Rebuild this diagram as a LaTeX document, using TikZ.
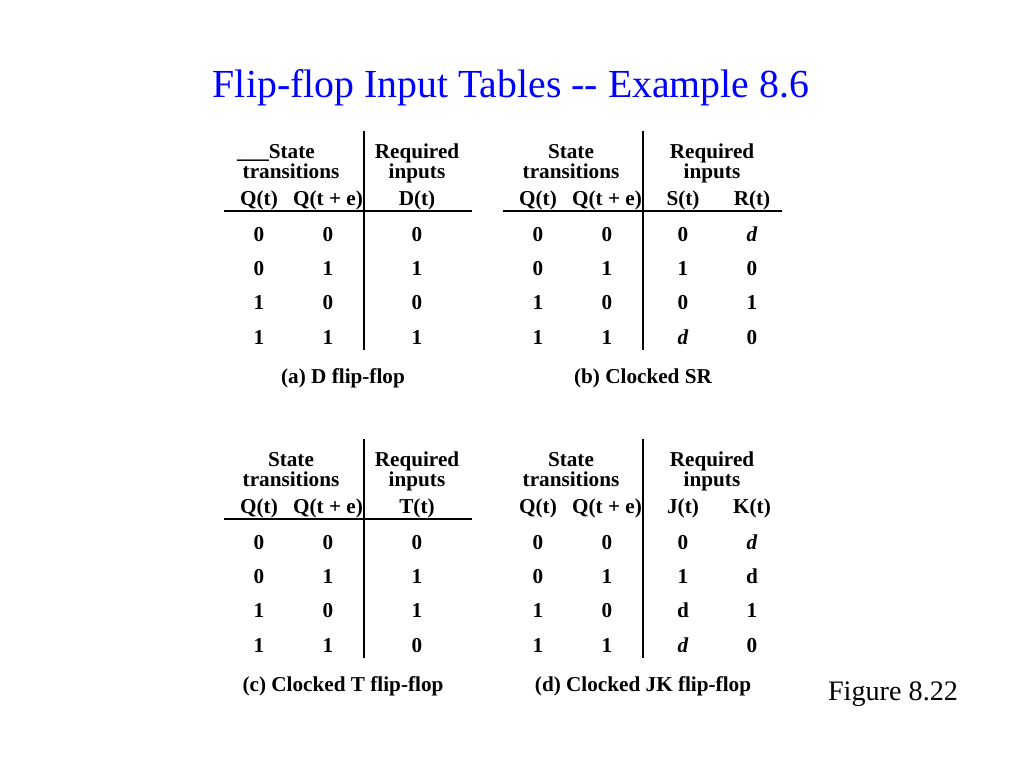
\documentclass[tikz,border=0pt]{standalone}
\usepackage{fontspec}
\setmainfont{Liberation Serif}
\begin{document}
\begin{tikzpicture}[x=1pt,y=-1pt,
  cell/.style={anchor=base, inner sep=0pt, font=\bfseries\fontsize{21.2}{24}\selectfont},
  rulel/.style={line width=1.5pt, black},
  titletext/.style={anchor=base, inner sep=0pt, text=blue, font=\fontsize{39.8}{44}\selectfont},
  figtext/.style={anchor=base, inner sep=0pt, font=\fontsize{28.2}{32}\selectfont}]
\useasboundingbox[fill=white] (0,0) rectangle (1024,768);

\node[titletext] (title) at (511,97) {Flip-flop Input Tables -{}- Example 8.6};

% ---------- (a) D flip-flop ----------
\begin{scope}
\node[cell,anchor=base east] (a-st) at (315,158) {\_\_\_State};
\node[cell] (a-tr) at (291,178) {transitions};
\node[cell] (a-rq) at (417,158) {Required};
\node[cell] (a-in) at (417,178) {inputs};
\node[cell] (a-h1) at (259,205) {Q(t)};
\node[cell] (a-h2) at (328,205) {Q(t + e)};
\node[cell] (a-h3) at (417,205) {D(t)};
\foreach \r/\y/\p/\q/\d in {1/241/0/0/0, 2/275/0/1/1, 3/309.5/1/0/0, 4/344/1/1/1}{
  \node[cell] (a-\r-1) at (259,\y) {\p};
  \node[cell] (a-\r-2) at (328,\y) {\q};
  \node[cell] (a-\r-3) at (417,\y) {\d};
}
\coordinate (a-vt) at (364,131); \coordinate (a-vb) at (364,350);
\coordinate (a-hl) at (224,211); \coordinate (a-hr) at (472,211);
\draw[rulel] (a-vt) -- (a-vb);
\draw[rulel] (a-hl) -- (a-hr);
\node[cell] (a-cap) at (343,383) {(a) D flip-flop};
\end{scope}

% ---------- (b) Clocked SR ----------
\begin{scope}
\node[cell] (b-st) at (571,158) {State};
\node[cell] (b-tr) at (571,178) {transitions};
\node[cell] (b-rq) at (712,158) {Required};
\node[cell] (b-in) at (712,178) {inputs};
\node[cell] (b-h1) at (538,205) {Q(t)};
\node[cell] (b-h2) at (607,205) {Q(t + e)};
\node[cell] (b-h3) at (683,205) {S(t)};
\node[cell] (b-h4) at (752,205) {R(t)};
\foreach \r/\y/\p/\q/\s/\t in {1/241/0/0/0/{\textit{d}}, 2/275/0/1/1/0, 3/309.5/1/0/0/1, 4/344/1/1/{\textit{d}}/0}{
  \node[cell] (b-\r-1) at (538,\y) {\p};
  \node[cell] (b-\r-2) at (607,\y) {\q};
  \node[cell] (b-\r-3) at (683,\y) {\s};
  \node[cell] (b-\r-4) at (752,\y) {\t};
}
\coordinate (b-vt) at (643,131); \coordinate (b-vb) at (643,350);
\coordinate (b-hl) at (503,211); \coordinate (b-hr) at (782,211);
\draw[rulel] (b-vt) -- (b-vb);
\draw[rulel] (b-hl) -- (b-hr);
\node[cell] (b-cap) at (643,383) {(b) Clocked SR};
\end{scope}

% ---------- (c) Clocked T flip-flop ----------
\begin{scope}
\node[cell] (c-st) at (291,466) {State};
\node[cell] (c-tr) at (291,486) {transitions};
\node[cell] (c-rq) at (417,466) {Required};
\node[cell] (c-in) at (417,486) {inputs};
\node[cell] (c-h1) at (259,513) {Q(t)};
\node[cell] (c-h2) at (328,513) {Q(t + e)};
\node[cell] (c-h3) at (417,513) {T(t)};
\foreach \r/\y/\p/\q/\d in {1/549/0/0/0, 2/583/0/1/1, 3/617.5/1/0/1, 4/652/1/1/0}{
  \node[cell] (c-\r-1) at (259,\y) {\p};
  \node[cell] (c-\r-2) at (328,\y) {\q};
  \node[cell] (c-\r-3) at (417,\y) {\d};
}
\coordinate (c-vt) at (364,439); \coordinate (c-vb) at (364,658);
\coordinate (c-hl) at (224,519); \coordinate (c-hr) at (472,519);
\draw[rulel] (c-vt) -- (c-vb);
\draw[rulel] (c-hl) -- (c-hr);
\node[cell] (c-cap) at (343,691) {(c) Clocked T flip-flop};
\end{scope}

% ---------- (d) Clocked JK flip-flop ----------
\begin{scope}
\node[cell] (d-st) at (571,466) {State};
\node[cell] (d-tr) at (571,486) {transitions};
\node[cell] (d-rq) at (712,466) {Required};
\node[cell] (d-in) at (712,486) {inputs};
\node[cell] (d-h1) at (538,513) {Q(t)};
\node[cell] (d-h2) at (607,513) {Q(t + e)};
\node[cell] (d-h3) at (683,513) {J(t)};
\node[cell] (d-h4) at (752,513) {K(t)};
\foreach \r/\y/\p/\q/\s/\t in {1/549/0/0/0/{\textit{d}}, 2/583/0/1/1/d, 3/617.5/1/0/d/1, 4/652/1/1/{\textit{d}}/0}{
  \node[cell] (d-\r-1) at (538,\y) {\p};
  \node[cell] (d-\r-2) at (607,\y) {\q};
  \node[cell] (d-\r-3) at (683,\y) {\s};
  \node[cell] (d-\r-4) at (752,\y) {\t};
}
\coordinate (d-vt) at (643,439); \coordinate (d-vb) at (643,658);
\draw[rulel] (d-vt) -- (d-vb);
\node[cell] (d-cap) at (643,691) {(d) Clocked JK flip-flop};
\end{scope}

\node[figtext] (fig) at (893,700) {Figure 8.22};
\end{tikzpicture}
\end{document}
